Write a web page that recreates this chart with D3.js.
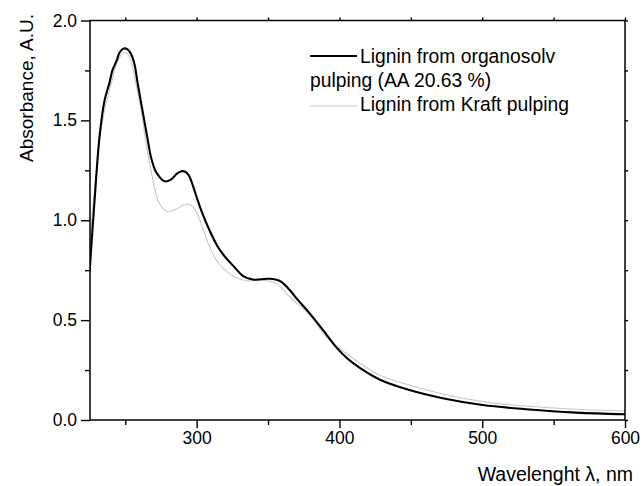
<!DOCTYPE html>
<html>
<head>
<meta charset="utf-8">
<script src="https://cdn.jsdelivr.net/npm/d3@7"></script>
<style>
  html, body { margin: 0; padding: 0; background: #fff; }
  svg { display: block; font-family: Arial, "Liberation Sans", sans-serif; }
</style>
</head>
<body>
<svg id="chart" width="643" height="486"></svg>
<script>
// UV-Vis absorbance spectra of two lignins
const organosolvWl = [225, 228.5, 232, 235.5, 239, 241, 244, 246, 249, 251.6, 254.2, 256.5, 258.8, 262.3, 265.8, 268.2, 271.7, 277.5, 282.2, 286, 289.2, 292, 294.5, 297.3, 300, 303.2, 309, 314.6, 319.5, 326.5, 332.3, 339.3, 345, 351, 358, 364, 371, 379, 388.3, 397.7, 406, 414, 428, 449, 472.3, 500.3, 530.7, 565.7, 600];
const organosolvAbs = [0.74, 1.10, 1.42, 1.60, 1.69, 1.75, 1.80, 1.84, 1.86, 1.855, 1.83, 1.78, 1.68, 1.54, 1.40, 1.31, 1.24, 1.195, 1.205, 1.232, 1.245, 1.243, 1.225, 1.175, 1.115, 1.05, 0.95, 0.87, 0.82, 0.765, 0.722, 0.703, 0.705, 0.707, 0.697, 0.66, 0.60, 0.535, 0.452, 0.365, 0.305, 0.262, 0.203, 0.15, 0.109, 0.075, 0.054, 0.037, 0.029];

const kraftWl = [225, 226, 228, 230, 232, 235.5, 240.2, 244.8, 249, 252, 254.2, 258.8, 262.3, 264.2, 269.4, 272.8, 276.3, 279.8, 283, 286.8, 290, 293.8, 297.3, 300.8, 304.3, 309, 314.8, 320, 326.5, 334.7, 346.3, 355.7, 365, 379, 390.7, 400, 414, 428, 449, 472.3, 500.3, 530.7, 565.7, 600];
const kraftAbs = [0.80, 0.95, 1.12, 1.27, 1.40, 1.55, 1.685, 1.80, 1.84, 1.83, 1.79, 1.635, 1.50, 1.40, 1.20, 1.10, 1.06, 1.043, 1.048, 1.06, 1.075, 1.08, 1.068, 1.026, 0.96, 0.868, 0.79, 0.75, 0.717, 0.697, 0.70, 0.684, 0.617, 0.526, 0.417, 0.359, 0.287, 0.225, 0.175, 0.130, 0.092, 0.070, 0.054, 0.045];

const xTicks = [300, 400, 500, 600];
const xMinorTicks = [250, 350, 450, 550];
const yTicks = [0.0, 0.5, 1.0, 1.5, 2.0];
const yMinorTicks = [0.25, 0.75, 1.25, 1.75];

const seriesNames = ["Lignin from organosolv", "pulping (AA 20.63 %)", "Lignin from Kraft pulping"];

const svg = d3.select("#chart");
const plotLeft = 90, plotRight = 625, plotTop = 20.5, plotBottom = 420;

const x = d3.scaleLinear().domain([225.3, 600]).range([plotLeft, plotRight]);
const y = d3.scaleLinear().domain([0, 2]).range([plotBottom, plotTop]);

const line = d3.line().x(d => x(d[0])).y(d => y(d[1])).curve(d3.curveCatmullRom.alpha(0.5));

const kraft = kraftWl.map((w, i) => [w, kraftAbs[i]]);
const organosolv = organosolvWl.map((w, i) => [w, organosolvAbs[i]]);

svg.append("defs").append("clipPath").attr("id", "plot")
  .append("rect").attr("x", plotLeft).attr("y", plotTop)
  .attr("width", plotRight - plotLeft).attr("height", plotBottom - plotTop);

const plot = svg.append("g").attr("clip-path", "url(#plot)");
plot.append("path").datum(kraft).attr("d", line)
  .attr("fill", "none").attr("stroke", "#c8c8c8").attr("stroke-width", 1.1);
plot.append("path").datum(organosolv).attr("d", line)
  .attr("fill", "none").attr("stroke", "#000").attr("stroke-width", 2.1).attr("stroke-linejoin", "round");

// Axes
function styleAxis(g) {
  g.select(".domain").remove();
  g.selectAll("line").attr("stroke", "#000").attr("stroke-width", 1.4);
  g.selectAll("text").attr("fill", "#000").attr("font-size", "17.5px");
}

svg.append("g").attr("transform", `translate(0,${plotBottom})`)
  .call(d3.axisBottom(x).tickValues(xTicks).tickSize(8).tickPadding(4).tickFormat(d3.format("d")))
  .call(styleAxis);
svg.append("g").attr("transform", `translate(0,${plotBottom})`)
  .call(d3.axisBottom(x).tickValues(xMinorTicks).tickSize(5).tickFormat(""))
  .call(styleAxis);

svg.append("g").attr("transform", `translate(${plotLeft},0)`)
  .call(d3.axisLeft(y).tickValues(yTicks).tickSize(9).tickPadding(4).tickFormat(d3.format(".1f")))
  .call(styleAxis);
svg.append("g").attr("transform", `translate(${plotLeft},0)`)
  .call(d3.axisLeft(y).tickValues(yMinorTicks).tickSize(5).tickFormat(""))
  .call(styleAxis);

// small ticks on the top and right frame
svg.append("g").attr("transform", `translate(0,${plotTop})`)
  .call(d3.axisTop(x).tickValues(xTicks.concat(xMinorTicks)).tickSize(3).tickFormat(""))
  .call(styleAxis);
svg.append("g").attr("transform", `translate(${plotRight},0)`)
  .call(d3.axisRight(y).tickValues(yTicks.concat(yMinorTicks)).tickSize(3).tickFormat(""))
  .call(styleAxis);

// frame
svg.append("rect").attr("x", plotLeft).attr("y", plotTop)
  .attr("width", plotRight - plotLeft).attr("height", plotBottom - plotTop)
  .attr("fill", "none").attr("stroke", "#000").attr("stroke-width", 1.5);

// axis titles
svg.append("text").attr("transform", "translate(33,88) rotate(-90)")
  .attr("text-anchor", "middle").attr("font-size", "19px").attr("fill", "#000")
  .text("Absorbance, A.U.");
svg.append("text").attr("x", 633).attr("y", 481)
  .attr("text-anchor", "end").attr("font-size", "19.5px").attr("fill", "#000")
  .text("Wavelenght λ, nm");

// legend
const legend = svg.append("g");
legend.append("line").attr("x1", 310).attr("x2", 357).attr("y1", 56).attr("y2", 56)
  .attr("stroke", "#000").attr("stroke-width", 2.1);
legend.append("text").attr("x", 360).attr("y", 63).attr("font-size", "19.3px").text(seriesNames[0]);
legend.append("text").attr("x", 310).attr("y", 87).attr("font-size", "19.3px").text(seriesNames[1]);
legend.append("line").attr("x1", 310).attr("x2", 357).attr("y1", 106).attr("y2", 106)
  .attr("stroke", "#c8c8c8").attr("stroke-width", 1.1);
legend.append("text").attr("x", 360).attr("y", 111).attr("font-size", "19.3px").text(seriesNames[2]);
</script>
</body>
</html>
